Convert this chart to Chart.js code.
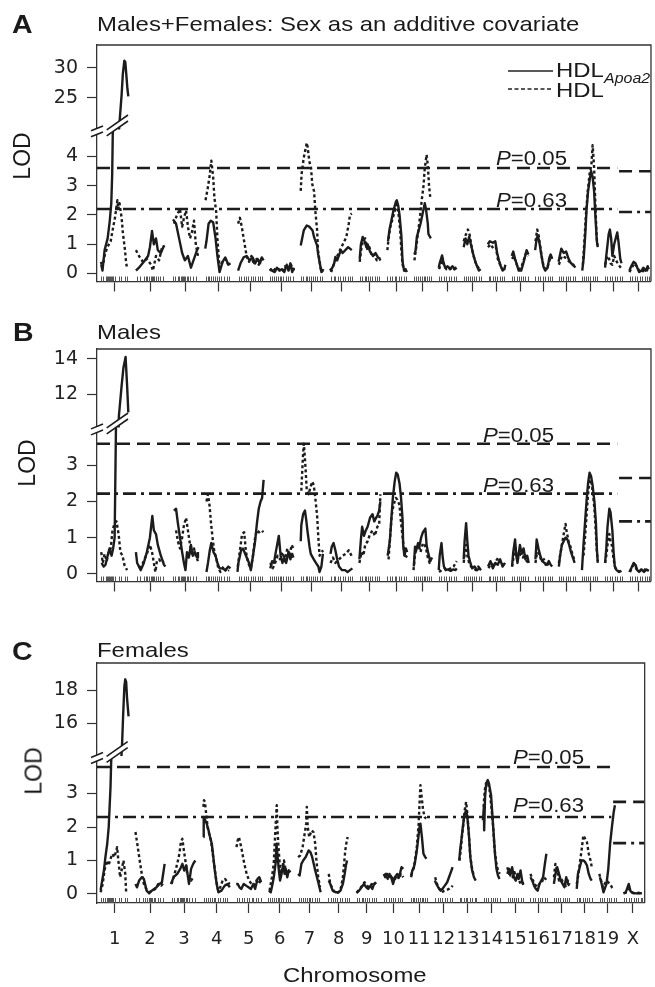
<!DOCTYPE html>
<html>
<head>
<meta charset="utf-8">
<script src="https://cdn.jsdelivr.net/npm/chart.js@4.4.1/dist/chart.umd.min.js"></script>
<style>
  body { margin: 0; width: 655px; height: 987px; position: relative; overflow: hidden; background: #fff;
         font-family: "Liberation Sans", Arial, sans-serif; color: #1a1a1a; }
  canvas { position: absolute; left: 0; }
  .t { position: absolute; font-size: 21px; line-height: 1; white-space: nowrap;
       transform: scaleX(1.14); transform-origin: 0 0; }
  .lbl { font-size: 25px; font-weight: bold; }
  .lod { position: absolute; font-size: 23px; line-height: 1; white-space: nowrap;
         transform: translate(-50%, -50%) rotate(-90deg); }
  .sup { font-size: 14px; font-style: italic; }
</style>
</head>
<body>
<canvas id="cA" width="655" height="300" style="top:0"></canvas>
<canvas id="cB" width="655" height="300" style="top:300px"></canvas>
<canvas id="cC" width="655" height="387" style="top:600px"></canvas>

<div class="t lbl" style="left:12px;top:11.7px">A</div>
<div class="t" style="left:97px;top:12.5px">Males+Females: Sex as an additive covariate</div>
<div class="t lbl" style="left:13px;top:319.7px">B</div>
<div class="t" style="left:97px;top:320.5px">Males</div>
<div class="t lbl" style="left:12px;top:638.7px">C</div>
<div class="t" style="left:97px;top:639.3px">Females</div>

<div class="lod" style="left:21.5px;top:156px">LOD</div>
<div class="lod" style="left:26.5px;top:463px">LOD</div>
<div class="lod" style="left:33.5px;top:771px">LOD</div>

<svg style="position:absolute;left:0;top:0" width="655" height="110">
  <line x1="508" y1="71" x2="553" y2="71" stroke="#222" stroke-width="1.6"/>
  <line x1="508" y1="89" x2="551" y2="89" stroke="#222" stroke-width="1.4" stroke-dasharray="4 2.5"/>
</svg>
<div class="t" style="left:556px;top:58.6px">HDL</div>
<div class="t" style="left:556px;top:78.6px">HDL</div>
<div class="t sup" style="left:604px;top:70.5px">Apoa2</div>

<div class="t" style="left:496px;top:148.8px;font-size:19.5px"><i>P</i>=0.05</div>
<div class="t" style="left:496px;top:190.8px;font-size:19.5px"><i>P</i>=0.63</div>
<div class="t" style="left:483px;top:425.8px;font-size:19.5px"><i>P</i>=0.05</div>
<div class="t" style="left:483px;top:475.8px;font-size:19.5px"><i>P</i>=0.63</div>
<div class="t" style="left:513px;top:747.8px;font-size:19.5px"><i>P</i>=0.05</div>
<div class="t" style="left:513px;top:795.8px;font-size:19.5px"><i>P</i>=0.63</div>

<div class="t" style="left:283px;top:964px">Chromosome</div>

<script>
// chromosomes: names, genetic length (cM) and gap between them on the genome axis
const chrNames = ['1','2','3','4','5','6','7','8','9','10','11','12','13','14','15','16','17','18','19','X'];
const chrLen = [98,97,89,88,86,80,78,76,71,67,63,61,60,59,57,57,57,55,60,67];
const GAP = 20;

// marker positions (cM within each chromosome) for the rug
const markers = [
  [3,10,18,22,27,30,33,36,40,44,50,62,70,82,90],
  [2,12,25,33,38,44,48,52,56,60,66,74,80,90],
  [4,12,20,26,30,34,38,42,46,50,55,62,70,80],
  [3,10,16,22,28,34,40,48,55,64,72,80],
  [4,12,20,28,36,44,52,58,66,74,82],
  [2,8,15,22,28,33,38,44,52,60,68,75],
  [3,10,18,24,30,36,42,48,56,64,72],
  [4,12,18,26,34,42,50,58,66,72],
  [3,10,18,24,30,36,44,52,60,66],
  [2,10,18,26,32,40,48,56,62],
  [4,10,16,22,28,34,40,46,52,58],
  [3,10,18,26,34,42,50,58],
  [2,8,16,22,28,36,44,52,58],
  [4,10,18,26,32,40,48,56],
  [3,10,18,24,30,38,46,54],
  [2,10,18,26,34,42,50,56],
  [4,10,16,24,32,40,48,54],
  [2,8,14,22,28,36,44,52],
  [3,10,18,26,34,42,50,57],
  [4,12,20,28,36,44,52,60,65]
];

// LOD profiles, [cM, LOD] per chromosome
const hdlA = [
  [[4,0.3],[8,0.1],[15,0.8],[25,1.2],[32,1.8],[37,2.4],[40,3.4],[65,21.5],[71,25.5],[75,29],[80,31.2],[83,31],[87,28.5],[90,26.5],[93,25.2]],
  [[0,0.1],[10,0.2],[26,0.4],[40,0.6],[46,0.9],[53,1.45],[59,1.0],[66,1.2],[72,0.8],[82,0.7],[92,0.95]],
  [[5,1.85],[15,1.7],[25,1.2],[35,0.7],[44,0.45],[54,0.6],[64,0.2],[74,0.5],[84,0.8],[89,0.9]],
  [[2,0.85],[6,1.1],[13,1.7],[20,1.8],[28,1.75],[36,1.2],[42,0.6],[49,0.05],[59,0.4],[68,0.55],[78,0.3],[85,0.35]],
  [[2,0.1],[10,0.35],[20,0.55],[30,0.6],[40,0.45],[50,0.55],[58,0.35],[66,0.5],[74,0.35],[80,0.55],[86,0.45]],
  [[0,0.15],[8,0.1],[16,0.05],[24,0.2],[32,0.1],[40,0.15],[48,0.05],[56,0.3],[62,0.1],[68,0.35],[74,0.05],[80,0.2]],
  [[2,0.96],[12,1.47],[22,1.64],[30,1.6],[41,1.47],[46,1.24],[56,0.95],[59,0.68],[65,0.34],[70,0.05],[77,0.15]],
  [[0,0.1],[8,0.2],[14,0.34],[18,0.57],[24,0.45],[36,0.8],[42,0.7],[60,0.9],[72,0.8]],
  [[2,0.5],[6,1.0],[12,1.25],[18,1.1],[24,0.9],[28,1.0],[36,0.75],[46,0.6],[54,0.7],[62,0.55],[70,0.5]],
  [[4,1.1],[9,1.5],[14,1.75],[22,2.15],[30,2.45],[33,2.5],[38,2.3],[42,2.0],[48,1.3],[52,0.4],[57,0.1],[62,0.15],[66,0.05]],
  [[4,0.65],[8,0.8],[12,1.25],[24,1.7],[30,2.0],[38,2.4],[42,2.2],[48,1.7],[50,1.35],[58,1.2]],
  [[1,0.2],[4,0.35],[12,0.62],[16,0.4],[22,0.2],[30,0.25],[38,0.15],[46,0.25],[54,0.15],[60,0.2]],
  [[2,0.9],[8,1.2],[14,1.0],[20,1.25],[28,0.9],[36,0.55],[44,0.3],[52,0.1],[58,0.15]],
  [[1,1.0],[8,1.1],[18,1.05],[26,1.1],[32,0.7],[38,0.45],[44,0.25],[50,0.1],[56,0.15],[59,0.3]],
  [[1,0.6],[6,0.75],[12,0.5],[18,0.3],[24,0.1],[32,0.1],[38,0.3],[44,0.55],[50,0.8],[56,0.65]],
  [[1,0.8],[6,1.2],[10,1.3],[16,1.0],[22,0.6],[28,0.25],[34,0.1],[42,0.2],[48,0.55],[52,0.65],[57,0.5]],
  [[1,0.4],[10,0.85],[18,0.7],[26,0.75],[34,0.5],[42,0.35],[50,0.3],[56,0.2]],
  [[2,0.1],[7,0.57],[12,1.36],[16,2.15],[21,2.8],[26,3.16],[31,3.5],[36,3.3],[41,2.8],[45,2.0],[50,1.1],[53,0.9]],
  [[2,0.2],[6,0.6],[14,1.35],[18,1.5],[22,1.2],[26,0.6],[32,1.0],[42,1.4],[46,1.1],[52,0.5],[56,0.35]],
  [[2,0.1],[8,0.25],[16,0.4],[22,0.35],[28,0.2],[34,0.05],[42,0.1],[48,0.2],[56,0.1],[62,0.25],[66,0.15]]
];
const apoA = [
  [[3,0.4],[8,0.2],[15,0.6],[24,0.9],[35,1.1],[40,1.4],[49,1.9],[57,2.5],[60,2.2],[64,2.4],[71,1.9],[75,1.4],[82,0.8],[86,0.35],[89,0.2]],
  [[0,0.8],[10,0.6],[23,0.4],[36,0.5],[50,0.3],[56,0.1],[66,0.6],[76,0.45],[86,0.9],[95,0.95]],
  [[8,1.7],[18,2.0],[28,2.2],[35,1.6],[41,1.9],[48,2.15],[54,1.6],[61,1.2],[67,1.4],[74,1.8],[80,1.0],[87,0.6]],
  [[3,2.5],[10,2.9],[16,3.3],[22,3.85],[28,3.3],[32,2.6],[38,2.1],[42,1.2],[49,0.2],[59,0.4],[68,0.5],[78,0.3]],
  [[2,1.7],[8,1.9],[14,1.6],[22,1.1],[30,0.6],[38,0.4],[46,0.6],[54,0.3],[62,0.5],[70,0.3],[78,0.5],[86,0.4]],
  [[0,0.1],[10,0.2],[20,0.1],[30,0.15],[40,0.05],[50,0.25],[60,0.1],[70,0.3],[80,0.1]],
  [[2,2.82],[5,3.4],[12,3.95],[22,4.46],[25,4.3],[30,3.84],[36,3.6],[40,3.05],[46,2.8],[50,2.15],[56,1.47],[59,0.79],[65,0.34],[70,0.05],[75,0.1]],
  [[4,0.05],[14,0.35],[22,0.55],[38,0.9],[54,1.24],[62,1.7],[66,2.0],[72,2.05]],
  [[2,0.4],[8,0.9],[14,1.15],[20,1.2],[28,0.8],[34,0.9],[42,0.6],[50,0.65],[58,0.45],[66,0.5],[71,0.45]],
  [[2,0.8],[6,1.2],[12,1.6],[20,1.9],[28,2.2],[32,2.35],[38,2.1],[44,1.5],[48,0.8],[52,0.3],[58,0.1],[64,0.1]],
  [[4,0.45],[10,0.9],[16,1.4],[22,1.9],[28,2.5],[34,3.0],[38,3.6],[44,4.05],[48,3.7],[52,3.0],[56,2.6]],
  [[2,0.15],[8,0.3],[12,0.55],[18,0.3],[26,0.15],[36,0.2],[46,0.1],[56,0.2],[60,0.15]],
  [[2,1.1],[8,1.3],[16,1.5],[22,1.3],[30,0.8],[40,0.4],[50,0.2],[58,0.15]],
  [[2,0.9],[10,1.0],[20,0.85],[28,0.9],[34,0.5],[42,0.3],[50,0.15],[58,0.2]],
  [[2,0.5],[8,0.6],[16,0.35],[24,0.15],[32,0.2],[40,0.45],[48,0.7],[56,0.6]],
  [[2,1.1],[8,1.5],[12,1.35],[18,0.9],[24,0.5],[30,0.2],[38,0.15],[46,0.35],[52,0.6],[57,0.5]],
  [[2,0.3],[12,0.6],[22,0.55],[32,0.45],[42,0.35],[52,0.25]],
  [[4,0.3],[9,1.1],[14,2.0],[20,2.8],[26,3.4],[32,3.7],[36,4.38],[38,4.1],[41,3.6],[45,2.4],[49,1.3],[52,0.95]],
  [[2,0.3],[8,0.55],[12,0.6],[20,0.35],[26,0.3],[32,0.6],[38,0.45],[46,0.3],[54,0.2]],
  [[2,0.05],[10,0.2],[18,0.35],[26,0.25],[34,0.1],[44,0.05],[54,0.15],[64,0.1]]
];
const hdlB = [
  [[5,0.3],[12,0.2],[18,0.25],[25,0.5],[31,0.7],[38,0.5],[43,0.7],[48,1.0],[62,10.8],[71,12.5],[77,13.5],[84,14.1],[89,12.5],[93,11.0]],
  [[0,0.6],[4,0.3],[16,0.1],[26,0.3],[36,0.6],[46,1.0],[54,1.6],[59,1.2],[66,1.1],[72,0.8],[82,0.5],[92,0.25],[97,0.2]],
  [[8,1.75],[15,1.8],[21,1.4],[28,1.0],[35,0.6],[41,0.3],[46,0.1],[51,0.6],[57,0.45],[64,0.8],[70,0.5],[77,0.6],[84,0.45],[87,0.6]],
  [[6,0.05],[11,0.3],[17,0.65],[22,0.85],[29,0.6],[36,0.5],[42,0.3],[49,0.15],[59,0.15],[68,0.1],[78,0.2],[85,0.15]],
  [[0,0.05],[3,0.3],[12,0.65],[18,0.7],[28,0.5],[38,0.3],[44,0.1],[51,0.5],[58,0.9],[64,1.4],[70,1.8],[76,2.0],[81,2.1],[86,2.6]],
  [[2,0.15],[8,0.35],[14,0.3],[20,0.6],[30,1.05],[36,0.5],[42,0.3],[48,0.45],[54,0.3],[62,0.6],[68,0.4],[74,0.55],[78,0.45]],
  [[2,0.9],[4,1.35],[10,1.65],[16,1.75],[20,1.5],[24,1.2],[31,0.75],[35,0.55],[45,0.4],[52,0.3],[60,0.2],[64,0.05],[70,0.2],[75,0.55]],
  [[2,0.55],[6,0.75],[12,0.85],[18,0.65],[24,0.4],[30,0.2],[40,0.1],[50,0.1],[58,0.05],[66,0.1],[74,0.15]],
  [[1,0.4],[6,0.95],[10,1.3],[16,1.05],[22,1.2],[28,1.3],[36,1.55],[44,1.65],[50,1.45],[56,1.55],[60,1.6],[66,1.75],[70,2.0]],
  [[3,0.5],[10,0.9],[15,1.5],[20,2.1],[26,2.55],[31,2.8],[36,2.75],[42,2.5],[47,2.1],[52,1.5],[54,0.8],[58,0.5],[63,0.7],[67,0.6]],
  [[2,0.2],[6,0.75],[10,0.65],[16,0.85],[20,0.75],[26,1.0],[32,1.15],[40,1.25],[44,0.8],[50,0.55],[56,0.35],[62,0.45]],
  [[1,0.1],[4,0.5],[10,0.85],[14,0.45],[18,0.2],[24,0.1],[32,0.12],[40,0.08],[48,0.12],[56,0.1],[60,0.15]],
  [[2,0.4],[5,0.9],[10,1.4],[14,0.9],[18,0.5],[24,0.3],[30,0.15],[38,0.2],[46,0.1],[54,0.15],[59,0.1]],
  [[2,0.2],[10,0.35],[18,0.15],[26,0.3],[34,0.25],[42,0.4],[50,0.2],[58,0.3]],
  [[2,0.2],[6,0.6],[12,0.95],[16,0.5],[20,0.3],[28,0.8],[34,0.55],[40,0.7],[46,0.4],[52,0.5],[57,0.3]],
  [[2,0.4],[6,0.95],[12,0.7],[18,0.5],[24,0.35],[32,0.3],[40,0.25],[46,0.35],[52,0.25],[57,0.2]],
  [[2,0.2],[6,0.5],[12,0.8],[18,0.9],[24,1.0],[30,0.95],[36,0.8],[42,0.6],[48,0.45],[54,0.3]],
  [[1,0.1],[6,0.8],[11,1.4],[16,2.0],[21,2.5],[26,2.8],[31,2.7],[36,2.45],[42,2.0],[47,1.4],[50,0.7],[53,0.3]],
  [[2,0.3],[6,0.7],[10,1.3],[16,1.8],[20,1.7],[26,1.2],[30,0.6],[34,0.2],[40,0.1],[48,0.05],[56,0.08]],
  [[2,0.05],[8,0.15],[16,0.3],[22,0.25],[28,0.1],[34,0.05],[42,0.12],[50,0.05],[58,0.12],[66,0.08]]
];
const apoB = [
  [[4,0.6],[9,0.3],[15,0.55],[22,0.35],[28,0.6],[35,0.7],[41,1.2],[48,1.4],[54,1.45],[61,1.1],[67,0.6],[74,0.5],[80,0.25],[89,0.1]],
  [[10,0.15],[23,0.3],[36,0.55],[46,0.8],[53,0.6],[59,0.3],[64,0.05],[69,0.35],[76,0.4],[85,0.3],[92,0.35]],
  [[15,1.2],[21,0.9],[28,0.7],[35,1.0],[41,1.35],[48,1.55],[54,1.2],[61,0.8],[67,0.5],[74,0.7],[80,0.5],[87,0.35]],
  [[6,2.0],[11,2.2],[16,1.9],[21,1.4],[26,1.0],[32,0.6],[39,0.4],[45,0.15],[52,0.05],[62,0.2],[72,0.05],[80,0.1]],
  [[1,0.2],[9,0.7],[15,1.1],[22,1.15],[28,0.6],[35,0.3],[44,0.15],[51,0.5],[58,1.0],[64,1.2],[71,1.15],[80,1.2],[85,1.15]],
  [[2,0.3],[10,0.15],[18,0.3],[26,0.5],[34,0.4],[42,0.6],[50,0.35],[58,0.7],[66,0.5],[72,0.8],[78,0.7]],
  [[4,2.3],[9,3.2],[12,3.6],[15,3.3],[18,2.9],[22,2.3],[28,2.2],[34,2.4],[40,2.55],[45,2.45],[50,2.1],[56,1.6],[60,1.0],[64,0.5],[70,0.6],[76,0.65]],
  [[2,0.3],[10,0.45],[18,0.3],[30,0.4],[42,0.5],[52,0.55],[62,0.65],[68,0.55],[74,0.45]],
  [[1,0.3],[8,0.6],[14,0.5],[20,0.8],[28,0.9],[36,1.1],[44,1.2],[52,1.05],[60,1.3],[66,1.35],[70,2.2]],
  [[6,0.4],[11,1.0],[16,1.6],[21,1.85],[26,2.0],[30,2.1],[35,2.05],[42,1.9],[46,1.5],[51,1.1],[56,0.7],[61,0.45],[67,0.5]],
  [[1,0.1],[6,0.55],[12,0.7],[18,0.8],[24,0.6],[32,0.85],[38,0.8],[42,0.7],[48,0.45],[54,0.3],[60,0.35]],
  [[2,0.05],[10,0.1],[20,0.15],[30,0.1],[40,0.15],[50,0.2],[56,0.3],[60,0.35]],
  [[2,0.3],[6,0.6],[10,0.8],[14,0.5],[20,0.3],[26,0.2],[34,0.15],[42,0.1],[50,0.2],[58,0.1]],
  [[4,0.15],[12,0.3],[20,0.2],[28,0.35],[36,0.45],[44,0.3],[52,0.25],[58,0.35]],
  [[2,0.2],[8,0.5],[14,0.7],[20,0.4],[30,0.55],[38,0.45],[44,0.55],[50,0.35],[57,0.3]],
  [[2,0.3],[8,0.6],[14,0.55],[22,0.35],[30,0.4],[38,0.2],[46,0.3],[54,0.25]],
  [[2,0.3],[8,0.6],[14,0.9],[20,1.2],[24,1.38],[28,1.15],[34,0.9],[40,0.75],[48,0.5],[55,0.35]],
  [[6,0.5],[11,1.0],[16,1.6],[21,2.2],[26,2.55],[31,2.6],[36,2.3],[42,1.8],[47,1.1],[50,0.6],[53,0.35]],
  [[2,0.3],[6,0.5],[10,0.8],[16,1.1],[20,0.9],[24,0.8],[30,0.4],[36,0.15],[44,0.08],[52,0.05],[58,0.06]],
  [[4,0.05],[12,0.2],[18,0.25],[26,0.12],[36,0.08],[46,0.15],[56,0.1],[66,0.08]]
];
const hdlC = [
  [[2,0.12],[13,0.7],[18,1.1],[24,1.5],[29,2.0],[35,3.2],[37,3.9],[73,14.5],[77,16.5],[81,18.2],[84,18.65],[87,18.5],[90,17.5],[95,16.4]],
  [[0,0.3],[5,0.2],[12,0.4],[21,0.5],[28,0.45],[37,0.1],[46,0.02],[54,0.1],[62,0.15],[70,0.2],[80,0.3],[88,0.35],[97,0.9]],
  [[1,0.3],[10,0.5],[22,0.6],[32,0.75],[39,0.9],[45,0.7],[52,0.85],[61,0.3],[68,0.75],[75,0.9],[82,1.0]],
  [[0,1.7],[1,2.3],[6,2.2],[11,2.1],[17,1.9],[22,1.7],[28,1.5],[33,1.1],[38,0.7],[44,0.3],[50,0.05],[60,0.1],[71,0.25],[80,0.3],[88,0.2]],
  [[1,0.3],[6,0.3],[12,0.2],[18,0.15],[26,0.3],[34,0.25],[42,0.2],[50,0.15],[58,0.3],[64,0.15],[72,0.45],[78,0.5],[84,0.35]],
  [[4,0.1],[10,0.05],[16,0.3],[20,0.5],[26,0.9],[29,1.5],[33,1.1],[37,0.7],[41,0.4],[46,0.6],[52,0.9],[56,0.6],[60,0.75],[65,0.5],[70,0.7],[76,0.65]],
  [[1,0.6],[6,0.55],[12,0.9],[18,1.0],[26,1.1],[36,1.3],[42,1.25],[48,1.1],[58,0.7],[68,0.35],[76,0.05]],
  [[5,0.4],[10,0.3],[18,0.1],[28,0.05],[36,0.05],[44,0.1],[52,0.3],[58,0.6],[62,0.85],[66,1.0]],
  [[1,0.03],[10,0.1],[18,0.2],[26,0.3],[34,0.2],[40,0.15],[48,0.25],[54,0.15],[60,0.3],[66,0.35]],
  [[1,0.6],[6,0.5],[12,0.6],[18,0.5],[24,0.55],[32,0.3],[38,0.5],[46,0.6],[52,0.5],[60,0.8],[66,0.75]],
  [[5,0.5],[9,0.7],[13,0.75],[18,0.95],[24,1.3],[28,1.6],[33,2.0],[36,2.1],[41,1.7],[46,1.2],[52,1.1],[56,1.05]],
  [[1,0.4],[6,0.3],[12,0.2],[20,0.1],[26,0.15],[34,0.25],[42,0.35],[48,0.5],[56,0.7],[60,0.8]],
  [[1,1.0],[4,1.3],[8,1.6],[13,2.0],[18,2.35],[24,2.5],[28,2.3],[33,1.8],[38,1.1],[44,0.7],[50,0.5],[56,0.4]],
  [[0,2.2],[3,2.6],[4,1.9],[7,2.9],[11,3.3],[16,3.4],[20,3.3],[27,2.95],[31,2.4],[36,1.75],[40,1.2],[45,0.75],[50,0.55],[55,0.45]],
  [[2,0.6],[8,0.75],[12,0.55],[18,0.8],[24,0.5],[30,0.4],[36,0.6],[40,0.45],[46,0.7],[52,0.35],[56,0.3]],
  [[2,0.5],[8,0.4],[14,0.25],[20,0.15],[26,0.1],[32,0.3],[38,0.4],[44,0.5],[50,0.9],[55,1.2]],
  [[3,0.3],[8,0.6],[14,0.8],[20,0.6],[26,0.4],[32,0.3],[38,0.2],[44,0.5],[50,0.3],[55,0.25]],
  [[2,0.15],[6,0.6],[12,0.8],[18,1.0],[25,1.0],[30,0.95],[36,0.85],[42,0.6],[48,0.45],[52,0.4]],
  [[4,0.5],[10,0.3],[16,0.05],[20,0.15],[26,0.3],[32,0.75],[38,1.5],[44,2.0],[50,2.45],[54,2.65]],
  [[2,0.02],[10,0.05],[20,0.3],[26,0.08],[34,0.03],[44,0.02],[54,0.03],[64,0.02]]
];
const apoC = [
  [[2,0.05],[9,0.3],[15,0.7],[22,1.0],[28,0.85],[35,1.05],[41,1.2],[48,1.1],[57,1.4],[61,1.0],[67,0.5],[74,0.8],[78,1.0],[84,0.6],[87,0.05]],
  [[0,1.85],[6,1.5],[14,1.0],[21,0.6],[28,0.3],[36,0.15],[46,0.05],[56,0.1],[66,0.15],[76,0.3],[86,0.25],[94,0.35]],
  [[3,0.3],[13,0.6],[22,0.9],[29,1.2],[34,1.55],[39,1.65],[44,1.3],[49,1.0],[55,0.6],[62,0.5],[68,0.4],[75,0.5]],
  [[0,2.6],[2,2.8],[5,2.75],[9,2.4],[14,2.0],[19,1.8],[25,1.6],[31,1.2],[37,0.8],[43,0.4],[49,0.1],[56,0.2],[64,0.4],[72,0.45],[80,0.35],[88,0.3]],
  [[2,1.4],[6,1.6],[10,1.7],[14,1.55],[20,1.3],[28,0.9],[36,0.6],[44,0.4],[52,0.3],[60,0.25],[68,0.4],[76,0.3],[84,0.45]],
  [[6,0.1],[14,0.5],[20,0.9],[26,2.0],[30,2.65],[32,2.0],[35,1.5],[39,1.0],[43,0.6],[48,0.8],[54,1.0],[58,0.8],[64,0.6],[70,0.7],[76,0.6]],
  [[1,1.1],[8,1.15],[16,1.4],[22,1.75],[28,2.1],[30,2.6],[33,2.0],[38,1.7],[46,1.9],[52,1.85],[58,1.5],[62,1.0],[68,0.5],[74,0.2]],
  [[5,0.6],[10,0.3],[18,0.15],[28,0.02],[38,0.05],[46,0.2],[52,0.5],[56,0.9],[60,1.3],[65,1.6],[68,1.7]],
  [[2,0.05],[10,0.12],[20,0.25],[28,0.35],[36,0.25],[44,0.2],[52,0.3],[58,0.25],[66,0.35]],
  [[2,0.55],[8,0.6],[14,0.45],[20,0.6],[28,0.5],[36,0.4],[44,0.55],[52,0.45],[58,0.6],[66,0.5]],
  [[5,0.55],[10,0.7],[16,0.9],[24,1.4],[30,2.1],[33,2.7],[36,3.25],[40,2.9],[45,2.5],[50,2.3],[55,2.25]],
  [[2,0.5],[8,0.3],[16,0.15],[24,0.05],[32,0.1],[40,0.12],[48,0.15],[56,0.2],[60,0.25]],
  [[2,1.0],[6,1.3],[10,1.7],[15,2.1],[20,2.55],[24,2.75],[28,2.4],[33,1.8],[38,1.1],[43,0.8],[48,0.6]],
  [[2,2.6],[6,3.1],[10,3.3],[16,3.35],[22,3.1],[28,2.6],[34,2.0],[38,1.4],[44,0.95],[50,0.7],[56,0.6]],
  [[2,0.8],[8,0.6],[14,0.7],[20,0.5],[26,0.65],[32,0.4],[38,0.5],[46,0.3],[52,0.35],[56,0.25]],
  [[2,0.6],[8,0.45],[16,0.3],[24,0.2],[32,0.3],[40,0.35],[46,0.5],[52,0.45],[56,0.4]],
  [[3,0.5],[8,0.9],[14,0.7],[20,0.4],[28,0.45],[36,0.3],[44,0.25],[50,0.4],[55,0.3]],
  [[2,0.3],[8,0.6],[12,0.9],[18,1.3],[24,1.75],[30,1.65],[36,1.55],[42,1.2],[48,1.0],[52,0.8]],
  [[2,0.6],[8,0.4],[14,0.2],[20,0.3],[26,0.4],[32,0.35],[38,0.3],[44,0.2],[50,0.15]],
  [[4,0.02],[14,0.06],[22,0.15],[30,0.05],[40,0.02],[52,0.03],[64,0.02]]
];

// permutation thresholds per panel (A, B, C): autosomes and X
const p05Auto = [3.6, 3.6, 3.79];
const p63Auto = [2.2, 2.22, 2.3];
const p05X = [3.49, 2.65, 2.75];
const p63X = [2.1, 1.45, 1.52];

// y tick values: lower (unbroken) part and upper part above the break
const lowTicks = [[0,1,2,3,4], [0,1,2,3], [0,1,2,3]];
const highTicks = [[25,30], [12,14], [16,18]];

const chrStart = [];
chrNames.forEach((_, i) => chrStart.push(i ? chrStart[i-1] + chrLen[i-1] + GAP : 0));
const X_MIN = -10;
const X_MAX = chrStart[19] + chrLen[19] + 6;
const chrMid = chrStart.map((s, i) => s + chrLen[i] / 2);
const thrEnd = chrStart[18] + 42;
const thrXStart = chrStart[18] + 48;

function series(rows) {
  const pts = [];
  rows.forEach((chr, i) => {
    chr.forEach(([p, v]) => pts.push({x: chrStart[i] + p, y: v}));
    pts.push({x: chrStart[i] + chrLen[i] + GAP / 2, y: null});
  });
  return pts;
}

const INK = '#1c1c1c';
const dashA = [13, 7];
const dashDot = [13, 5, 3, 5];

function thr(v, x0, x1, dash) {
  return {data: [{x: x0, y: v}, {x: x1, y: v}], borderDash: dash, borderWidth: 2.6,
          borderColor: INK, pointRadius: 0, yAxisID: 'y'};
}

const frame = {
  id: 'frame',
  afterDatasetsDraw(chart) {
    const {ctx, chartArea: a, scales} = chart;
    ctx.save();
    ctx.strokeStyle = '#555';
    ctx.lineWidth = 1;
    markers.forEach((list, i) => list.forEach(m => {
      const px = Math.round(scales.x.getPixelForValue(chrStart[i] + m)) + 0.5;
      ctx.beginPath(); ctx.moveTo(px, a.bottom); ctx.lineTo(px, a.bottom - 5); ctx.stroke();
    }));
    ctx.restore();
  },
  afterDraw(chart) {
    const {ctx, chartArea: a, scales} = chart;
    ctx.save();
    ctx.strokeStyle = '#333';
    ctx.lineWidth = 1.3;
    ctx.beginPath();
    ctx.moveTo(a.left, a.top); ctx.lineTo(a.right, a.top); ctx.lineTo(a.right, a.bottom);
    ctx.stroke();
    // axis break marks
    const j = scales.y.top;
    const slash = (x0, x1, cy, slope) => {
      const dy = (x1 - x0) * slope / 2;
      ctx.fillStyle = '#fff';
      ctx.beginPath();
      ctx.moveTo(x0, cy - 3 + dy); ctx.lineTo(x1, cy - 3 - dy);
      ctx.lineTo(x1, cy + 3 - dy); ctx.lineTo(x0, cy + 3 + dy);
      ctx.closePath(); ctx.fill();
      ctx.strokeStyle = INK; ctx.lineWidth = 1.6;
      [-3, 3].forEach(o => {
        ctx.beginPath(); ctx.moveTo(x0, cy + o + dy); ctx.lineTo(x1, cy + o - dy); ctx.stroke();
      });
    };
    slash(a.left - 6, a.left + 6, j + 2, 0.4);
    slash(scales.x.getPixelForValue(22), scales.x.getPixelForValue(92), j - 4, 0.7);
    ctx.restore();
  }
};

function panel(id, k, cfg) {
  const lines = {pointRadius: 0, borderColor: INK, borderWidth: 2.4, tension: 0,
                 borderJoinStyle: 'round', spanGaps: false};
  const hdl = [hdlA, hdlB, hdlC][k];
  const apo = [apoA, apoB, apoC][k];
  const tickFont = {family: '"DejaVu Sans", sans-serif', size: 19, lineHeight: 1};
  const yCommon = {
    type: 'linear', position: 'left', stack: 'lod',
    afterFit: s => { s.width = 97; },
    grid: {drawOnChartArea: false, tickLength: 10, tickColor: '#333', tickWidth: 1.2},
    border: {color: '#333', width: 1.3},
    ticks: {font: tickFont, color: '#222', padding: 9, autoSkip: false}
  };
  new Chart(document.getElementById(id), {
    type: 'line',
    data: {datasets: [
      Object.assign({data: series(hdl), yAxisID: 'y'}, lines),
      Object.assign({data: series(hdl), yAxisID: 'yTop'}, lines),
      Object.assign({data: series(apo), yAxisID: 'y', borderDash: [3, 2.6], borderJoinStyle: 'miter'}, lines),
      thr(p05Auto[k], X_MIN, thrEnd, dashA),
      thr(p63Auto[k], X_MIN, thrEnd, dashDot),
      thr(p05X[k], thrXStart, X_MAX, dashA),
      thr(p63X[k], thrXStart, X_MAX, dashDot)
    ]},
    options: {
      responsive: false, animation: false, devicePixelRatio: 1, events: [],
      layout: {padding: {top: cfg.padTop, right: 1.5, left: 0, bottom: 0}},
      plugins: {legend: {display: false}, tooltip: {enabled: false}},
      scales: {
        x: {
          type: 'linear', min: X_MIN, max: X_MAX,
          afterBuildTicks: s => { s.ticks = chrMid.map(v => ({value: v})); },
          afterFit: s => { s.height = cfg.xH; },
          ticks: {autoSkip: false, maxRotation: 0, minRotation: 0, padding: 16, color: '#222',
                  font: {family: '"DejaVu Sans", sans-serif', size: 18},
                  callback: (v, i) => cfg.labels ? chrNames[i] : ''},
          grid: {drawOnChartArea: false, tickLength: 10, tickColor: '#333', tickWidth: 1.2},
          border: {color: '#333', width: 1.3}
        },
        y: Object.assign({}, yCommon, {
          min: cfg.low[0], max: cfg.low[1], stackWeight: cfg.low[2],
          afterBuildTicks: s => { s.ticks = lowTicks[k].map(v => ({value: v})); }
        }),
        yTop: Object.assign({}, yCommon, {
          min: cfg.high[0], max: cfg.high[1], stackWeight: cfg.high[2],
          afterBuildTicks: s => { s.ticks = highTicks[k].map(v => ({value: v})); }
        })
      }
    },
    plugins: [frame]
  });
}

panel('cA', 0, {padTop: 45, xH: 17, labels: false, low: [-0.271, 4.915, 153], high: [19.67, 33.83, 85]});
panel('cB', 1, {padTop: 49, xH: 11, labels: false, low: [-0.214, 4.05, 159], high: [10.16, 14.54, 81]});
panel('cC', 2, {padTop: 63, xH: 84, labels: true, low: [-0.269, 4.12, 147], high: [14.0, 19.64, 93]});
</script>
</body>
</html>
